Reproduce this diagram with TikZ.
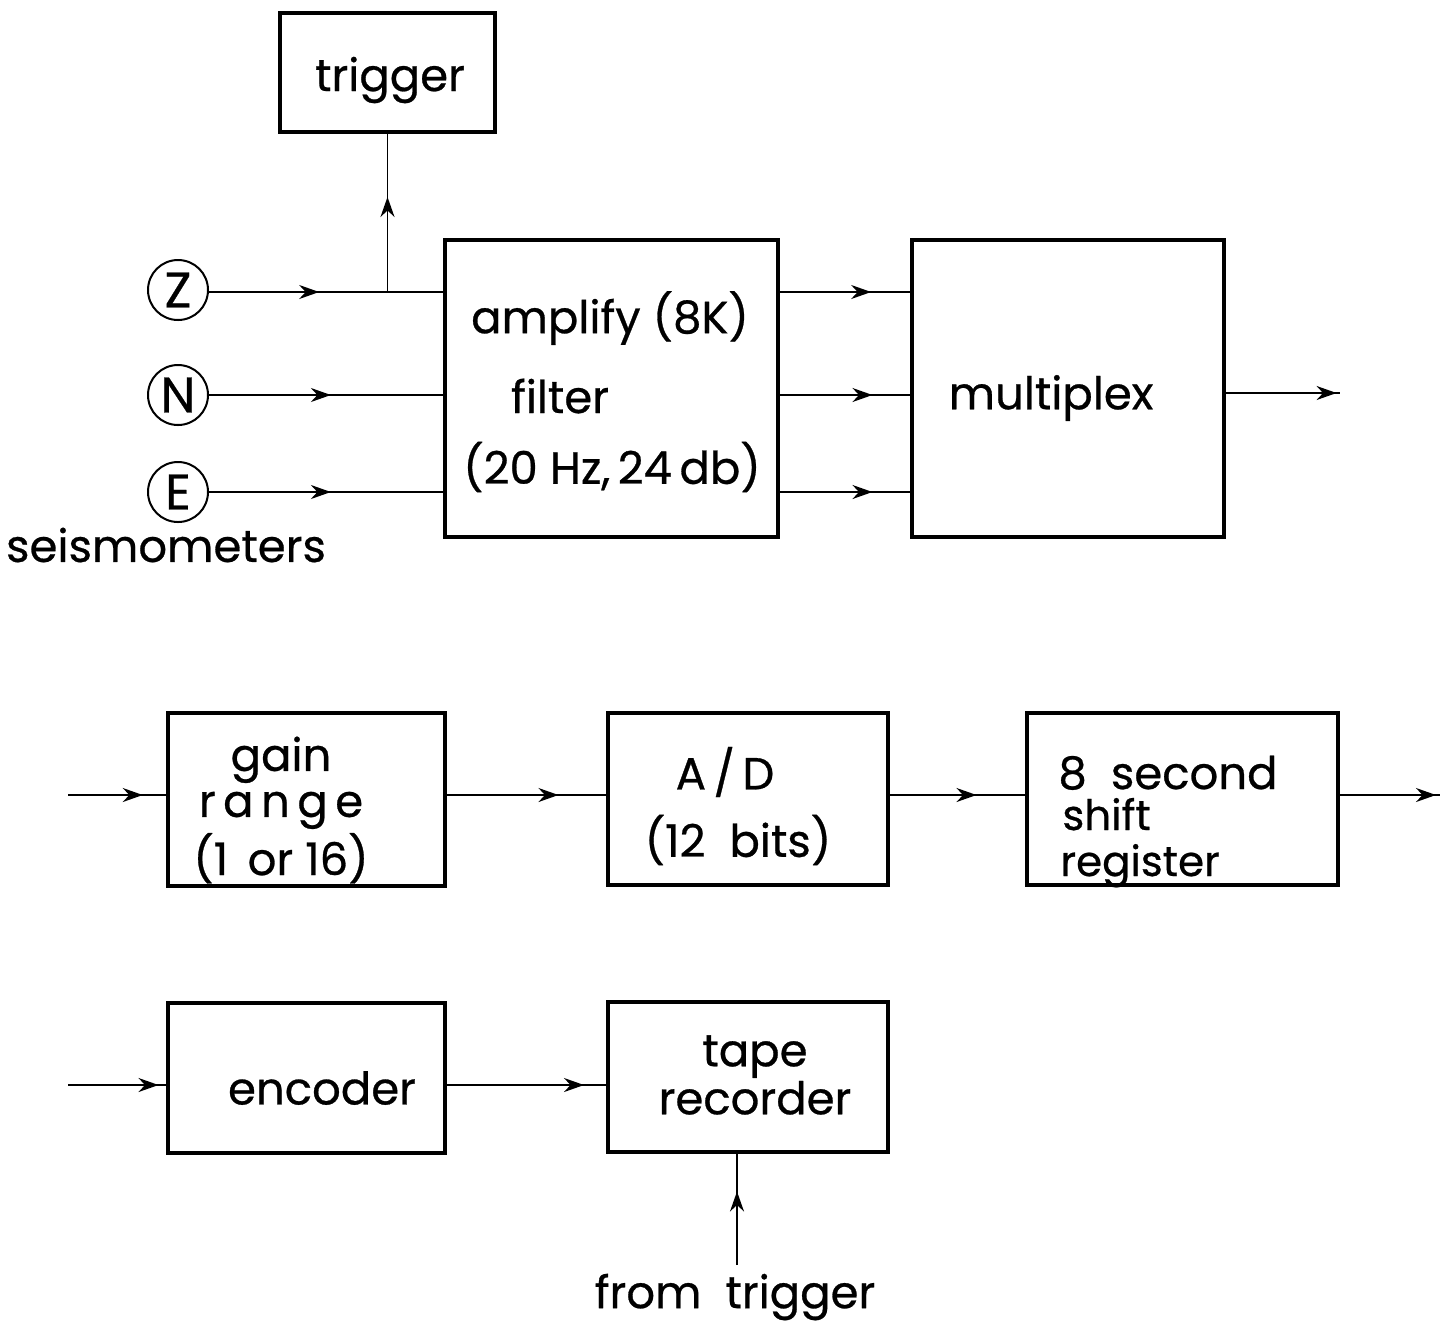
\documentclass[tikz,border=0pt]{standalone}
\usepackage{fontspec}
\setmainfont{Poppins}[FakeBold=0.6]
\usetikzlibrary{arrows.meta,decorations.markings}
\tikzset{
  box/.style={draw, line width=1.6pt, inner sep=0pt},
  wire/.style={line width=0.9pt},
  midarrow/.style={wire, postaction={decorate}, decoration={markings, mark=at position #1 with {\arrow{Stealth[length=10pt,width=7pt]}}}},
  sensor/.style={draw, circle, line width=1pt, minimum size=30pt, inner sep=0pt, font=\fontsize{25}{27}\selectfont},
  lbl/.style={inner sep=0pt, font=\fontsize{22.5}{24}\selectfont},
}
\begin{document}
\begin{tikzpicture}[x=0.5pt,y=-0.5pt]
\useasboundingbox (0,0) rectangle (1444,1324);
% boxes
\node[box, minimum width=107.5pt, minimum height=59.5pt] (trigger) at (387.5,72.5) {};
\node[box, minimum width=166.5pt, minimum height=148.5pt] (amp) at (611.5,388.5) {};
\node[box, minimum width=156pt, minimum height=148.5pt] (mux) at (1068,388.5) {};
\node[box, minimum width=138.5pt, minimum height=86.5pt] (gain) at (306.5,799.5) {};
\node[box, minimum width=140pt, minimum height=86pt] (ad) at (748,799) {};
\node[box, minimum width=155.5pt, minimum height=86pt] (shift) at (1182.5,799) {};
\node[box, minimum width=138.5pt, minimum height=75pt] (enc) at (306.5,1078) {};
\node[box, minimum width=140pt, minimum height=75pt] (tape) at (748,1077) {};
% sensors
\node[sensor] (Z) at (178,290) {Z};
\node[sensor] (N) at (178,395) {N};
\node[sensor] (E) at (178,492) {E};
% texts
\node[lbl] (ttrig) at (390,80) {trigger};
\node[lbl] (tamp1) at (610,318) {amplify (8K)};
\node[lbl] (tamp2) at (560,396) {filter};
\node[lbl] (tamp3) at (612,467) {(20 Hz,\,24\,db)};
\node[lbl] (tmux) at (1051,398) {multiplex};
\node[lbl] (tseis) at (166,545) {seismometers};
\node[lbl, align=center] (tgain) at (281,810) {gain\\[-1pt]r\,a\,n\,g\,e\\[1pt](1 \,or 16)};
\node[lbl] (tad1) at (725,772) {A\,/\,D};
\node[lbl] (tad2) at (738,840) {(12 \ bits)};
\node[lbl, anchor=base west] (tshift1) at (1058,789) {8 \ second};
\node[lbl, anchor=base west, font=\fontsize{21}{22}\selectfont] (tshift2) at (1062,830) {shift};
\node[lbl, anchor=base west, font=\fontsize{21}{22}\selectfont] (tshift3) at (1060,876) {register};
\node[lbl] (tenc) at (322,1088) {encoder};
\node[lbl, align=center] (ttape) at (755,1075) {tape\\recorder};
\node[lbl] (tfrom) at (735,1297) {from \ trigger};
% free ends
\coordinate (muxout) at (1340,393);
\coordinate (in2) at (68,795);
\coordinate (out2) at (1440,795);
\coordinate (in3) at (68,1085);
\coordinate (ft) at (737,1265);
\coordinate (jz) at (387.5,292);
% connectors
\draw[midarrow=0.47] (Z.east |- jz) -- (jz -| amp.west);
\draw[midarrow=0.52] (N) -- (N -| amp.west);
\draw[midarrow=0.52] (E) -- (E -| amp.west);
\draw[midarrow=0.6] (jz) -- (trigger.south);
\draw[midarrow=0.7] (amp.east |- jz) -- (mux.west |- jz);
\draw[midarrow=0.71] (amp.east |- N) -- (mux.west |- N);
\draw[midarrow=0.71] (amp.east |- E) -- (mux.west |- E);
\draw[midarrow=0.97] (mux.east |- muxout) -- (muxout);
\draw[midarrow=0.76] (in2) -- (in2 -| gain.west);
\draw[midarrow=0.7] (gain.east |- in2) -- (ad.west |- in2);
\draw[midarrow=0.64] (ad.east |- in2) -- (shift.west |- in2);
\draw[midarrow=0.96] (shift.east |- out2) -- (out2);
\draw[midarrow=0.92] (in3) -- (in3 -| enc.west);
\draw[midarrow=0.86] (enc.east |- in3) -- (tape.west |- in3);
\draw[midarrow=0.66] (ft) -- (ft |- tape.south);
\end{tikzpicture}
\end{document}
